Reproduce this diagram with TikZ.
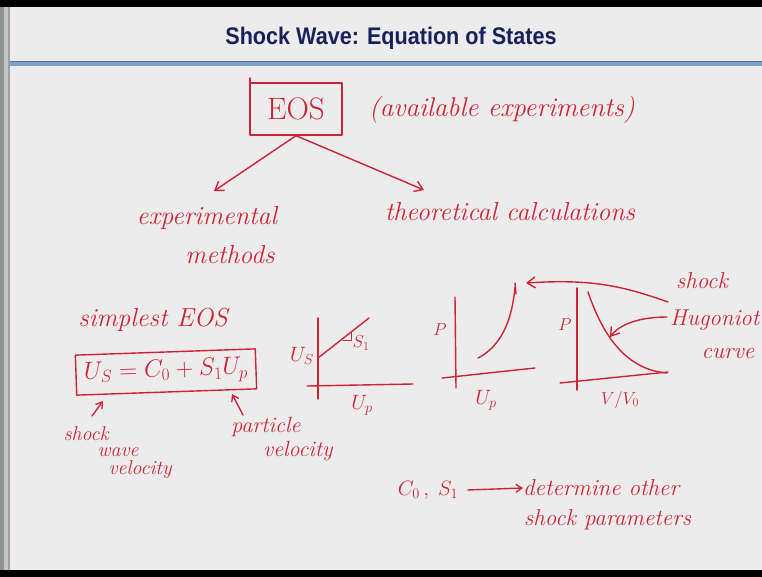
\documentclass[tikz,border=0pt]{standalone}
\usepackage{fontspec}
\newfontfamily\titlefont{Liberation Sans}
\usetikzlibrary{arrows.meta}
\definecolor{ink}{RGB}{205,35,55}
\definecolor{slide}{RGB}{236,236,236}
\definecolor{navy}{RGB}{25,32,90}
\definecolor{rulecol}{RGB}{125,160,200}
\definecolor{edgegray}{RGB}{140,150,145}
\begin{document}
\begin{tikzpicture}[x=1pt,y=-1pt,
  hand/.style={text=ink,font=\itshape\fontsize{#1}{#1}\selectfont,inner sep=0pt},
  pen/.style={draw=ink,line width=1.4pt,line cap=round,line join=round},
  barb/.style={pen,-{Straight Barb[length=8pt,width=11pt,line width=1.4pt]}},
  smallbarb/.style={pen,-{Straight Barb[length=6pt,width=8pt,line width=1.3pt]}}]
\useasboundingbox (0,0) rectangle (762,577);
% background
\fill[slide] (0,0) rectangle (762,577);
\fill[black] (0,0) rectangle (762,7);
\fill[black] (0,570) rectangle (762,577);
\fill[edgegray] (0,7) rectangle (4,570);
\fill[gray!45] (4,7) rectangle (8,570);
\fill[gray!75] (8,7) rectangle (9.5,570);
% title
\node[text=navy,font=\titlefont\bfseries\fontsize{24}{24}\selectfont,xscale=0.9] (title) at (391,38) {Shock Wave: Equation of States};
\fill[rulecol] (9.5,61) rectangle (762,66);
\draw[rulecol!70!black,line width=0.6pt] (9.5,61) -- (762,61);
% EOS box
\node[pen,draw,minimum width=92pt,minimum height=52pt,inner sep=0pt,text=ink,
      font=\fontsize{31}{31}\selectfont] (eos) at (296,109) {EOS};
\draw[pen] (250,78) -- (250,90);
\node[hand=27] (avail) at (502,110) {(available experiments)};
\coordinate (lend) at (214,191);
\coordinate (rend) at (424,190);
\draw[barb] (eos.south) -- (lend);
\draw[barb] (eos.south) -- (rend);
\node[hand=26] (exp) at (207,218) {experimental};
\node[hand=26] (meth) at (230,255) {methods};
\node[hand=26] (theo) at (510,212) {theoretical calculations};
% simplest EOS
\node[hand=26] (simp) at (153,320) {simplest EOS};
\node[pen,draw,rotate=2,minimum width=180pt,minimum height=40pt,inner sep=0pt,text=ink,
      font=\fontsize{25}{25}\selectfont] (eq) at (166,372) {$U_S = C_0 + S_1 U_p$};
\coordinate (swtail) at (92,416);
\coordinate (swhead) at (103,401);
\draw[smallbarb] (swtail) -- (swhead);
\node[hand=20] (sw1) at (86,434) {shock};
\node[hand=20] (sw2) at (118,452) {wave};
\node[hand=20] (sw3) at (140,470) {velocity};
\coordinate (pvtail) at (243,415);
\coordinate (pvhead) at (232,394);
\draw[smallbarb] (pvtail) -- (pvhead);
\node[hand=22] (pv1) at (266,427) {particle};
\node[hand=22] (pv2) at (298,451) {velocity};
% graph 1 : Us vs Up
\draw[pen] (318,318) -- (318,399);
\draw[pen] (307,386) -- (413,384);
\draw[pen] (318,358) -- (369,318);
\draw[pen,line width=1pt] (343,340) -- (351,340) -- (351,333);
\node[text=ink,font=\fontsize{17}{17}\selectfont] (s1) at (361,343) {$S_1$};
\node[text=ink,font=\fontsize{20}{20}\selectfont] (us) at (302,356) {$U_S$};
\node[text=ink,font=\fontsize{20}{20}\selectfont] (up1) at (362,405) {$U_p$};
% graph 2 : P vs Up
\draw[pen] (455,297) -- (456,388);
\draw[pen] (442,378) -- (535,368);
\draw[pen] (478,358) .. controls (500,347) and (512,322) .. (515,287);
\draw[pen] (515,283) -- (516,294);
\node[text=ink,font=\fontsize{18}{18}\selectfont] (p2) at (440,330) {$P$};
\node[text=ink,font=\fontsize{20}{20}\selectfont] (up2) at (486,400) {$U_p$};
% graph 3 : P vs V/V0
\draw[pen] (577,288) -- (577,390);
\draw[pen] (560,383) -- (668,372);
\draw[pen] (588,292) .. controls (605,342) and (630,370) .. (667,373);
\node[text=ink,font=\fontsize{18}{18}\selectfont] (p3) at (565,325) {$P$};
\node[text=ink,font=\fontsize{18}{18}\selectfont] (vv) at (620,400) {$V/V_0$};
% shock Hugoniot labels
\node[hand=23] (shock) at (702,281) {shock};
\node[hand=23,anchor=west] (hug) at (670,320) {Hugoniot};
\node[hand=23] (curve) at (728,354) {curve};
\coordinate (shtail) at (668,302);
\coordinate (shhead) at (526,283);
\draw[barb] (shtail) .. controls (620,285) and (590,279) .. (shhead);
\coordinate (hgtail) at (667,317);
\coordinate (hghead) at (610,337);
\draw[barb] (hgtail) .. controls (640,317) and (620,324) .. (hghead);
% C0, S1 -> determine
\node[text=ink,font=\fontsize{22}{22}\selectfont] (cs) at (428,490) {$C_0\,,\;S_1$};
\node[hand=23,anchor=west] (det) at (523,488) {determine other};
\node[hand=23,anchor=west] (par) at (524,520) {shock parameters};
\draw[smallbarb] (cs.east) ++(6,0) coordinate (csa) -- (det.west);
\end{tikzpicture}
\end{document}
